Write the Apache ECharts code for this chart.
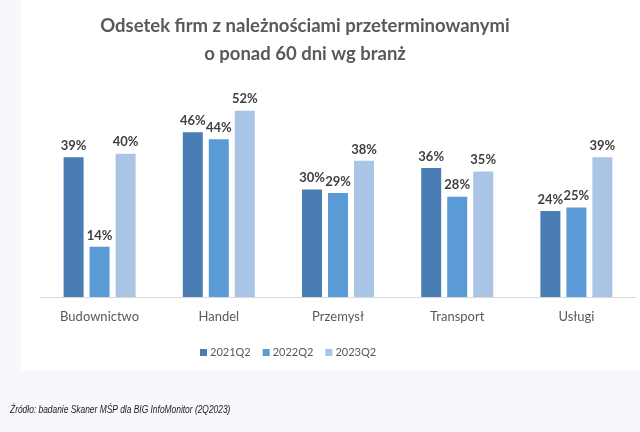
<!DOCTYPE html>
<html><head><meta charset="utf-8">
<script src="https://cdn.jsdelivr.net/npm/echarts@6/dist/echarts.min.js"></script>
<style>html,body{margin:0;padding:0;background:#f6f8fb;}#c{width:640px;height:432px;}</style>
</head><body><div id="c"></div>
<script>
const categories = ['Budownictwo','Handel','Przemysł','Transport','Usługi'];
const seriesNames = ['2021Q2','2022Q2','2023Q2'];
const s2021 = [39,46,30,36,24];
const s2022 = [14,44,29,28,25];
const s2023 = [40,52,38,35,39];
const colors = ['#4a7db3','#5b9bd5','#a9c4e4'];
const titleText = 'Odsetek firm z należnościami przeterminowanymi\no ponad 60 dni wg branż';
const sourceText = 'Źródło: badanie Skaner MŚP dla BIG InfoMonitor (2Q2023)';

const chart = echarts.init(document.getElementById('c'), null, {renderer:'canvas'});
const mk = (name, data, i) => ({
  name, type:'bar', data, barWidth:20, barGap:'30%',
  itemStyle:{color:colors[i]},
  label:{show:true, position:'top', distance:5, formatter:'{c}%', color:'#404040',
    fontFamily:'Lato', fontWeight:'bold', fontSize:13}
});
chart.setOption({
  backgroundColor:'#f6f8fb',
  animation:false,
  graphic:[{type:'rect', z:-10, shape:{x:21,y:0,width:619,height:370}, style:{fill:'#ffffff'}},
    {type:'text', x:10, y:405, scaleX:0.84, originX:0, style:{text:sourceText, font:'italic 10px "Liberation Sans"', fill:'#222'}}],
  title:{text:titleText, left:300, textAlign:'center', top:7,
    textStyle:{fontFamily:'Lato', fontWeight:'bold', fontSize:18.5, color:'#595959', lineHeight:28}},
  legend:{top:342, left:195, itemWidth:7, itemHeight:7, itemGap:12, icon:'rect',
    textStyle:{fontFamily:'Lato', fontSize:11, color:'#595959', padding:[0,0,0,-2]}, data:seriesNames},
  grid:{left:40, right:4, top:82, bottom:135},
  xAxis:{type:'category', data:categories,
    axisLine:{lineStyle:{color:'#d9d9d9'}}, axisTick:{show:false},
    axisLabel:{fontFamily:'Lato', fontSize:13, color:'#595959', margin:13}},
  yAxis:{type:'value', min:0, max:60, show:false, splitLine:{show:false}},
  series:[mk(seriesNames[0], s2021, 0), mk(seriesNames[1], s2022, 1), mk(seriesNames[2], s2023, 2)]
});
</script></body></html>
